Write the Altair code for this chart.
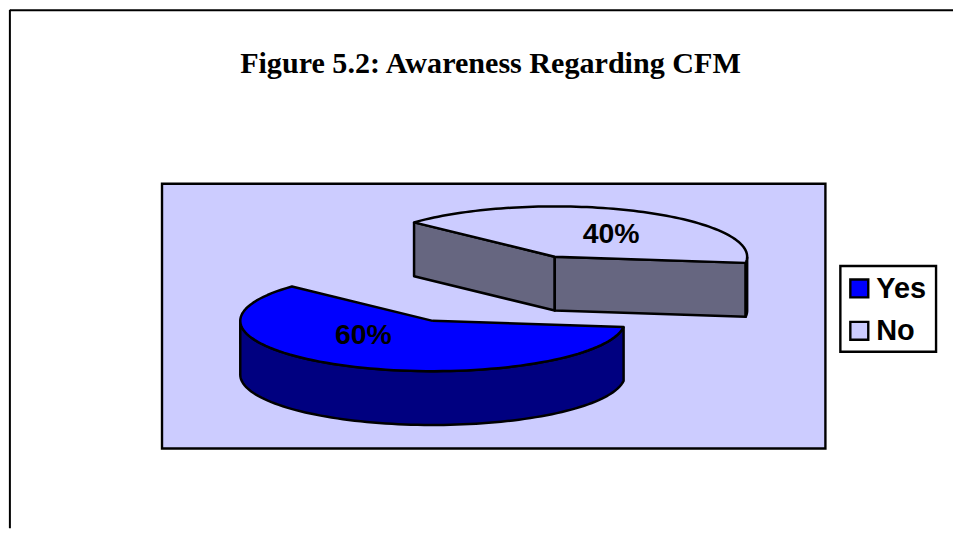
import altair as alt
import numpy as np
import pandas as pd

categories = ["Yes", "No"]
shares = [60, 40]
labels = ["60%", "40%"]
title_text = "Figure 5.2: Awareness Regarding CFM"

TOP = {"Yes": "#0000FF", "No": "#CCCCFF"}
SIDE = {"Yes": "#000080", "No": "#666680"}
PANEL = "#CCCCFF"

# pie projection, in page pixels
APEX = {"Yes": (433.0, 321.0), "No": (555.5, 256.7)}
ELLIPSE_DX = {"Yes": 0.0, "No": 0.0}
RX, RY, DEPTH = 193.0, 50.5, 54.0
START = 7.0

xs = alt.Scale(domain=[9, 955], range=[0, 946], nice=False, zero=False)
ys = alt.Scale(domain=[9, 529], range=[0, 520], nice=False, zero=False)
X = alt.X("x:Q", scale=xs, axis=None)
Y = alt.Y("y:Q", scale=ys, axis=None)


def rim(cat, a0, a1, dy=0.0, n=90):
    cx, cy = APEX[cat]
    cx += ELLIPSE_DX[cat]
    t = np.radians(np.linspace(a0, a1, n))
    return list(cx + RX * np.cos(t)), list(cy + dy + RY * np.sin(t))


def poly(px, py, fill, width=2.5):
    px, py = list(px) + [px[0]], list(py) + [py[0]]
    df = pd.DataFrame({"x": px, "y": py, "i": range(len(px))})
    return (
        alt.Chart(df)
        .mark_line(fill=fill, stroke="#000000", strokeWidth=width, strokeJoin="round")
        .encode(x=X, y=Y, order=alt.Order("i:Q"))
    )


def box(x0, y0, x1, y1, fill, width=2.4):
    df = pd.DataFrame({"x": [x0], "x2": [x1], "y": [y0], "y2": [y1]})
    return (
        alt.Chart(df)
        .mark_rect(fill=fill, stroke="#000000", strokeWidth=width)
        .encode(x=X, x2="x2:Q", y=Y, y2="y2:Q")
    )


def hline(x0, x1, y, width):
    df = pd.DataFrame({"x": [x0], "x2": [x1], "y": [y]})
    return alt.Chart(df).mark_rule(color="#000000", strokeWidth=width).encode(x=X, x2="x2:Q", y=Y)


def vline(x, y0, y1, width):
    df = pd.DataFrame({"x": [x], "y": [y0], "y2": [y1]})
    return alt.Chart(df).mark_rule(color="#000000", strokeWidth=width).encode(x=X, y=Y, y2="y2:Q")


def text(x, y, s, size, font, align="center"):
    df = pd.DataFrame({"x": [x], "y": [y], "t": [s]})
    return (
        alt.Chart(df)
        .mark_text(font=font, fontSize=size, fontWeight="bold", color="#000000", align=align, baseline="middle")
        .encode(x=X, y=Y, text="t:N")
    )


layers = [
    hline(9, 955, 9.4, 2),
    vline(8.9, 9, 529, 2),
    text(491, 63, title_text, 30.2, "Liberation Serif"),
    box(161.5, 183.5, 827, 449, PANEL),
]

a_yes0 = START
a_yes1 = a_yes0 + shares[0] * 3.6
a_no0 = a_yes1
a_no1 = a_no0 + shares[1] * 3.6

# "No" slice: cut faces, small visible outer wall, then the top face
cx, cy = APEX["No"]
lx, ly = rim("No", a_no0, a_no0, n=1)
rx, ry = rim("No", a_no1, a_no1, n=1)
layers.append(poly([lx[0], cx, cx, lx[0]], [ly[0], cy, cy + DEPTH, ly[0] + DEPTH], SIDE["No"]))
layers.append(poly([cx, rx[0], rx[0], cx], [cy, ry[0], ry[0] + DEPTH, cy + DEPTH], SIDE["No"]))
wx, wy = rim("No", 360, a_no1, n=12)
bx, by = rim("No", a_no1, 360, DEPTH, n=12)
layers.append(poly(wx + bx, wy + by, SIDE["No"]))
tx, ty = rim("No", a_no0, a_no1)
layers.append(poly([cx] + tx, [cy] + ty, TOP["No"]))

# "Yes" slice: outer wall, then the top face
cx, cy = APEX["Yes"]
wx, wy = rim("Yes", a_yes0, 180)
bx, by = rim("Yes", 180, a_yes0, DEPTH)
layers.append(poly(wx + bx, wy + by, SIDE["Yes"]))
tx, ty = rim("Yes", a_yes0, a_yes1)
layers.append(poly([cx] + tx, [cy] + ty, TOP["Yes"]))

layers.append(text(363.5, 335, labels[0], 28.5, "Liberation Sans"))
layers.append(text(612, 234, labels[1], 28.5, "Liberation Sans"))

# legend
layers.append(box(842, 266, 938, 352, "#FFFFFF"))
for cat, ytop in zip(categories, [279.5, 322]):
    layers.append(box(852, ytop, 870, ytop + 18, TOP[cat]))
    layers.append(text(878, ytop + 9.5, cat, 29, "Liberation Sans", align="left"))

chart = (
    alt.layer(*layers)
    .properties(width=946, height=520, padding=0, background="#FFFFFF")
    .configure_view(stroke=None)
)
chart.save("out.html", embed_options={"renderer": "svg", "actions": False})
